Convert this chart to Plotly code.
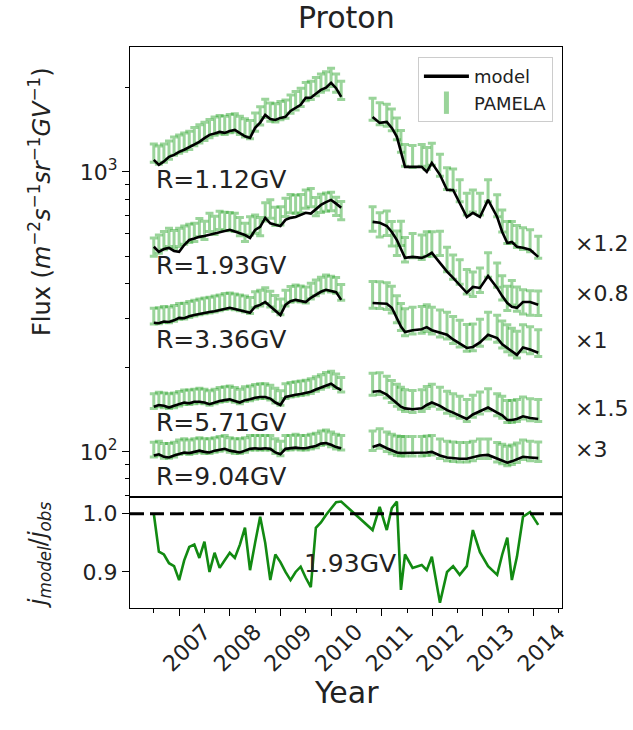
import plotly.graph_objects as go

# ---------------- data ----------------
YEAR_TICKS = [2007, 2008, 2009, 2010, 2011, 2012, 2013, 2014]

T_LEFT = [2006.5, 2006.6, 2006.7, 2006.8, 2006.9, 2007.0, 2007.1, 2007.2, 2007.3, 2007.4,
          2007.5, 2007.6, 2007.7, 2007.8, 2007.9, 2008.0, 2008.1, 2008.2, 2008.3, 2008.4,
          2008.5, 2008.6, 2008.7, 2008.8, 2008.9, 2009.0, 2009.1, 2009.2, 2009.3, 2009.4,
          2009.5, 2009.6, 2009.7, 2009.8, 2009.9, 2010.0, 2010.1, 2010.2]
T_RIGHT = [2010.82, 2010.96, 2011.10, 2011.20, 2011.30, 2011.38, 2011.46, 2011.61, 2011.79,
           2011.89, 2011.99, 2012.15, 2012.29, 2012.41, 2012.54, 2012.68, 2012.80, 2012.94,
           2013.10, 2013.28, 2013.38, 2013.48, 2013.57, 2013.67, 2013.79, 2013.93, 2014.09]

RIGIDITY_LABELS = ["R=1.12GV", "R=1.93GV", "R=3.36GV", "R=5.71GV", "R=9.04GV"]
SCALE_LABELS = ["×1.2", "×0.8", "×1", "×1.5", "×3"]

MODEL_112_L = [1104, 1059, 1090, 1131, 1150, 1179, 1200, 1228, 1250, 1280,
               1320, 1356, 1370, 1389, 1378, 1400, 1412, 1375, 1340, 1322,
               1436, 1500, 1598, 1545, 1533, 1559, 1572, 1650, 1693, 1735,
               1838, 1840, 1900, 1963, 2000, 2080, 1990, 1853]
OBS_112_L = [1170, 1150, 1170, 1200, 1240, 1260, 1280, 1300, 1340, 1370,
             1400, 1430, 1460, 1480, 1470, 1490, 1500, 1470, 1440, 1420,
             1510, 1590, 1690, 1640, 1630, 1660, 1680, 1750, 1800, 1850,
             1940, 1960, 2020, 2080, 2120, 2180, 2080, 1960]
MODEL_112_R = [1571, 1496, 1509, 1436, 1334, 1180, 1042, 1042, 1042, 1000, 1077, 976, 862,
               862, 775, 690, 714, 690, 794, 690, 610, 557, 562, 540, 536, 527, 497]
OBS_112_R = [1680, 1620, 1600, 1540, 1430, 1290, 1150, 1140, 1150, 1120, 1160, 1060, 950,
             940, 860, 770, 790, 770, 860, 760, 670, 610, 610, 590, 580, 570, 540]

MODEL_193_L = [540, 518, 530, 535, 522, 518, 548, 571, 578, 586,
               590, 596, 603, 610, 615, 621, 612, 605, 595, 581,
               620, 636, 685, 655, 647, 640, 674, 685, 690, 702,
               714, 710, 735, 762, 780, 794, 770, 744]
OBS_193_L = [540, 554, 570, 585, 574, 585, 596, 605, 610, 634,
             620, 662, 646, 673, 668, 666, 662, 639, 610, 643,
             653, 639, 721, 739, 696, 698, 749, 773, 767, 772,
             802, 812, 753, 774, 782, 786, 755, 729]
MODEL_193_R = [663, 658, 641, 610, 571, 527, 493, 497, 493, 501, 514, 473, 440,
               418, 395, 370, 388, 385, 425, 385, 360, 340, 330, 327, 343, 343, 335]
OBS_193_R = [682, 650, 659, 604, 559, 606, 530, 548, 541, 555, 555, 558, 489,
             459, 441, 407, 399, 412, 467, 430, 387, 355, 372, 353, 345, 342, 341]

MODEL_336_L = [289, 288, 292, 291, 295, 301, 300, 305, 308, 311,
               314, 316, 318, 321, 325, 327, 324, 321, 318, 314,
               330, 335, 343, 330, 318, 308, 335, 345, 349, 345,
               343, 355, 364, 373, 379, 376, 372, 349]
OBS_336_L = [306, 307, 310, 309, 313, 318, 319, 323, 327, 330,
             333, 335, 338, 341, 345, 347, 344, 341, 338, 334,
             350, 355, 362, 352, 340, 330, 355, 366, 370, 367,
             364, 376, 386, 395, 402, 398, 394, 372]
MODEL_336_R = [340, 340, 338, 327, 300, 280, 268, 272, 274, 279, 272, 266, 262,
               252, 244, 235, 237, 246, 262, 255, 242, 235, 228, 222, 236, 232, 226]
OBS_336_R = [366, 365, 362, 352, 325, 305, 292, 296, 298, 302, 296, 289, 284,
             274, 266, 257, 258, 268, 284, 277, 264, 256, 249, 243, 256, 252, 246]

MODEL_571_L = [145, 147, 146, 144, 146, 148, 150, 149, 151, 151,
               150, 148, 150, 152, 153, 154, 152, 150, 153, 154,
               156, 157, 157, 155, 150, 147, 157, 159, 160, 161,
               162, 164, 167, 170, 173, 175, 170, 166]
OBS_571_L = [152, 154, 153, 152, 153, 155, 157, 157, 158, 159,
             158, 156, 158, 160, 161, 162, 160, 158, 161, 162,
             164, 165, 165, 163, 159, 156, 165, 167, 168, 169,
             170, 172, 175, 178, 181, 183, 179, 174]
MODEL_571_R = [164, 165, 160, 154, 149, 145, 143, 142, 143, 147, 150, 146, 141,
               138, 135, 131, 136, 140, 144, 138, 135, 130, 130, 131, 134, 132, 131]
OBS_571_R = [175, 176, 171, 165, 160, 156, 153, 152, 153, 157, 160, 156, 151,
             148, 145, 141, 146, 150, 154, 148, 145, 140, 140, 141, 144, 142, 141]

MODEL_904_L = [97, 98, 96, 95.5, 97, 98.5, 99.5, 99, 100, 101,
               100, 99.5, 101, 102, 102.5, 101, 100, 99.5, 101, 102.5,
               103, 102.5, 103, 102.5, 99.5, 98, 102.5, 103, 103.5, 103,
               103, 104, 105, 107, 107.5, 106, 104, 103]
OBS_904_L = [102, 103, 101, 101, 102, 104, 105, 104, 105, 106,
             105, 105, 106, 107, 108, 106, 105, 105, 106, 108,
             108, 108, 108, 108, 105, 103, 108, 108, 109, 108,
             108, 109, 110, 112, 113, 111, 109, 108]
MODEL_904_R = [104, 106, 103, 101, 99.5, 99, 99, 99, 99, 99.5, 100, 97, 95.5,
               95, 94.5, 94.5, 95.5, 97, 97.5, 94.5, 93, 91.5, 92.5, 94, 96, 95.5, 95]
OBS_904_R = [110, 112, 109, 107, 105.5, 105, 105, 105, 105, 105.5, 106, 103, 101,
             100.5, 100, 100, 101, 103, 103, 100, 98.5, 97, 98, 99.5, 102, 101, 100.5]

# relative PAMELA uncertainties (left period, right period)
REL_ERR_L = [0.075, 0.075, 0.065, 0.06, 0.06]
REL_ERR_R = [0.09, 0.10, 0.11, 0.09, 0.08]

RATIO_193 = [1.00, 0.935, 0.93, 0.915, 0.91, 0.886, 0.92, 0.943, 0.947, 0.924,
             0.952, 0.90, 0.933, 0.907, 0.92, 0.933, 0.924, 0.947, 0.976, 0.903,
             0.95, 0.995, 0.95, 0.886, 0.93, 0.917, 0.90, 0.886, 0.90, 0.909,
             0.89, 0.874, 0.976, 0.985, 0.998, 1.01, 1.02, 1.021,
             0.972, 1.012, 0.972, 1.01, 1.021, 0.869, 0.93, 0.907, 0.912, 0.903,
             0.926, 0.847, 0.90, 0.91, 0.895, 0.91, 0.972, 0.934, 0.91, 0.895,
             0.93, 0.959, 0.886, 0.926, 0.995, 1.003, 0.981]

MODELS = [(MODEL_112_L, MODEL_112_R), (MODEL_193_L, MODEL_193_R), (MODEL_336_L, MODEL_336_R),
          (MODEL_571_L, MODEL_571_R), (MODEL_904_L, MODEL_904_R)]
OBS = [(OBS_112_L, OBS_112_R), (OBS_193_L, OBS_193_R), (OBS_336_L, OBS_336_R),
       (OBS_571_L, OBS_571_R), (OBS_904_L, OBS_904_R)]

for a, b in MODELS + OBS:
    assert len(a) == len(T_LEFT) and len(b) == len(T_RIGHT)
assert len(RATIO_193) == len(T_LEFT) + len(T_RIGHT)

# ---------------- figure ----------------
FONT = "DejaVu Sans"
ERR_COLOR = "rgba(30,160,30,0.45)"
XR = [2006.03, 2014.56]

fig = go.Figure()

# legend entries
fig.add_trace(go.Scatter(x=[None], y=[None], mode="lines", name="model",
                         line=dict(color="black", width=3.5), xaxis="x", yaxis="y"))
fig.add_trace(go.Scatter(x=[None], y=[None], mode="markers", name="PAMELA",
                         marker=dict(symbol="line-ns-open", size=16, color=ERR_COLOR,
                                     line=dict(color=ERR_COLOR, width=5)),
                         xaxis="x", yaxis="y"))

for i in range(5):
    oL, oR = OBS[i]
    errs = [v * REL_ERR_L[i] for v in oL] + [v * REL_ERR_R[i] for v in oR]
    fig.add_trace(go.Scatter(
        x=T_LEFT + T_RIGHT, y=oL + oR, mode="markers", showlegend=False,
        marker=dict(size=1, color="rgba(0,0,0,0)"),
        error_y=dict(type="data", array=errs, visible=True, color=ERR_COLOR,
                     thickness=3, width=4),
        xaxis="x", yaxis="y"))
for i in range(5):
    mL, mR = MODELS[i]
    fig.add_trace(go.Scatter(
        x=T_LEFT + [None] + T_RIGHT, y=mL + [None] + mR, mode="lines",
        showlegend=False, connectgaps=False,
        line=dict(color="black", width=2.6), xaxis="x", yaxis="y"))

fig.add_trace(go.Scatter(x=T_LEFT + T_RIGHT, y=RATIO_193, mode="lines", showlegend=False,
                         line=dict(color="#128a12", width=2.6), xaxis="x2", yaxis="y2"))

fig.add_shape(type="line", xref="x2 domain", x0=0, x1=1, yref="y2", y0=1.0, y1=1.0,
              line=dict(color="black", width=3, dash="14px,6px"))

axis_common = dict(showline=True, mirror=True, linecolor="black", linewidth=1.2,
                   showgrid=False, zeroline=False, tickcolor="black", tickwidth=1.2)

minor_log = [70, 80, 90] + [k * 100 for k in range(2, 10)] + [2000]
minor_years = [y - 0.5 for y in YEAR_TICKS] + [YEAR_TICKS[-1] + 0.5]

fig.update_layout(
    width=633, height=730,
    margin=dict(l=130, r=71, t=47, b=122),
    paper_bgcolor="white", plot_bgcolor="white",
    font=dict(family=FONT, color="#222"),
    showlegend=True,
    legend=dict(x=0.979, y=0.982, xanchor="right", yanchor="top", itemwidth=45,
                bgcolor="rgba(255,255,255,0.9)", bordercolor="#cccccc", borderwidth=1,
                font=dict(family=FONT, size=18, color="#222")),
    xaxis=dict(domain=[0, 1], anchor="y", range=XR, showticklabels=False, ticks="",
               **axis_common),
    yaxis=dict(domain=[0.198, 1], anchor="x", type="log", range=[1.839, 3.446],
               tickmode="array", tickvals=[100, 1000],
               ticktext=["10<sup>2</sup>", "10<sup>3</sup>"],
               ticks="outside", ticklen=7, tickfont=dict(size=22, family=FONT, color="#222"),
               minor=dict(tickmode="array", tickvals=minor_log, ticks="outside", ticklen=4,
                          tickcolor="black", tickwidth=1),
               **axis_common),
    xaxis2=dict(domain=[0, 1], anchor="y2", range=XR, tickmode="array",
                tickvals=YEAR_TICKS, ticktext=[str(y) for y in YEAR_TICKS],
                tickangle=-45, ticks="outside", ticklen=7,
                tickfont=dict(size=22, family=FONT, color="#222"),
                ticklabelshift=25, ticklabelstandoff=-6,
                minor=dict(tickmode="array", tickvals=minor_years, ticks="outside",
                           ticklen=4, tickcolor="black", tickwidth=1),
                **axis_common),
    yaxis2=dict(domain=[0, 0.198], anchor="x2", range=[0.838, 1.029],
                tickmode="array", tickvals=[0.9, 1.0], ticktext=["0.9", "1.0"],
                ticks="outside", ticklen=7, tickfont=dict(size=22, family=FONT, color="#222"),
                **axis_common),
)

ann = []
ann.append(dict(text="Proton", xref="paper", yref="paper", x=0.5, y=1.0, yshift=30,
                xanchor="center", yanchor="middle", showarrow=False,
                font=dict(size=30, family=FONT, color="#222")))
ann.append(dict(text="Year", xref="paper", yref="paper", x=0.5, y=-0.15,
                xanchor="center", yanchor="middle", showarrow=False,
                font=dict(size=30, family=FONT, color="#222")))
ann.append(dict(text="Flux (<i>m</i><sup>−2</sup><i>s</i><sup>−1</sup><i>sr</i><sup>−1</sup><i>GV</i><sup>−1</sup>)",
                xref="paper", yref="paper", x=-0.208, y=0.724, textangle=-90,
                xanchor="center", yanchor="middle", showarrow=False,
                font=dict(size=24, family=FONT, color="#222")))
ann.append(dict(text="<i>j</i><sub><i>model</i></sub>/<i>j</i><sub><i>obs</i></sub>",
                xref="paper", yref="paper", x=-0.208, y=0.0945, textangle=-90,
                xanchor="center", yanchor="middle", showarrow=False,
                font=dict(size=24, family=FONT, color="#222")))
r_label_y = [0.763, 0.610, 0.478, 0.330, 0.234]
for lab, yy in zip(RIGIDITY_LABELS, r_label_y):
    ann.append(dict(text=lab, xref="paper", yref="paper", x=0.056, y=yy,
                    xanchor="left", yanchor="middle", showarrow=False,
                    font=dict(size=25, family=FONT, color="#222")))
s_label_y = [0.650, 0.561, 0.477, 0.356, 0.283]
for lab, yy in zip(SCALE_LABELS, s_label_y):
    ann.append(dict(text=lab, xref="paper", yref="paper", x=1.025, y=yy,
                    xanchor="left", yanchor="middle", showarrow=False,
                    font=dict(size=22, family=FONT, color="#222")))
ann.append(dict(text="1.93GV", xref="paper", yref="paper", x=0.51, y=0.080,
                xanchor="center", yanchor="middle", showarrow=False,
                font=dict(size=25, family=FONT, color="#222")))
fig.update_layout(annotations=ann)

fig.write_html("out.html")
